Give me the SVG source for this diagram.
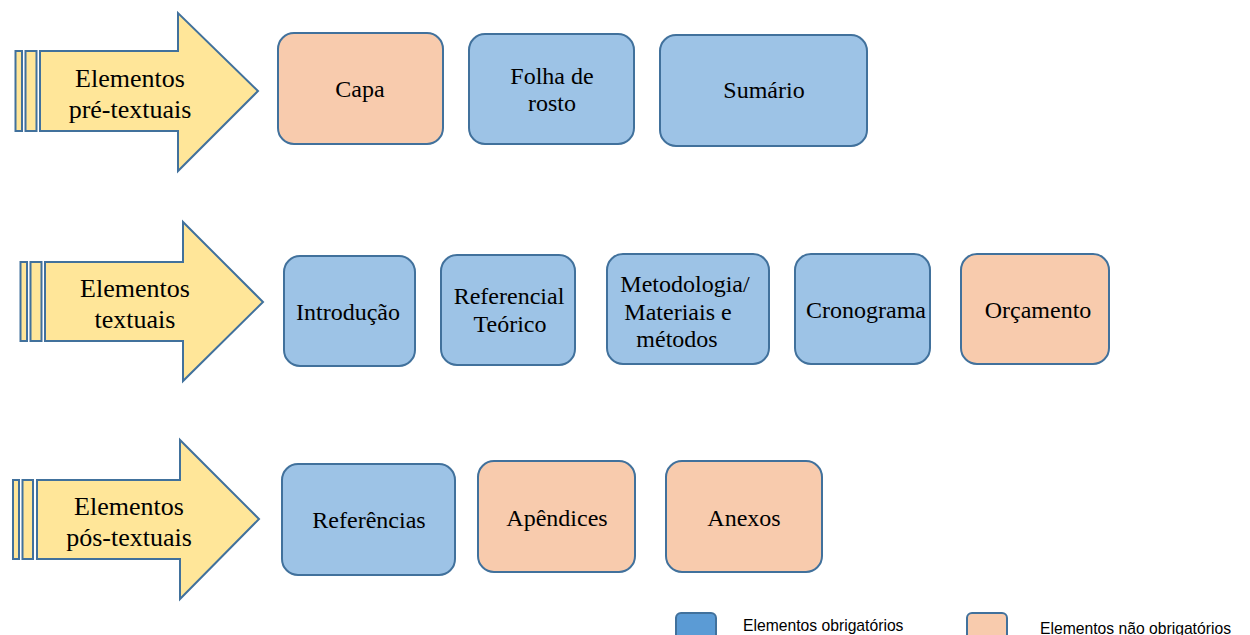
<svg xmlns="http://www.w3.org/2000/svg" width="1250" height="635" viewBox="0 0 1250 635">
<style>
.arr{fill:#FFE699;stroke:#41719C;stroke-width:2;stroke-linejoin:miter}
.blue{fill:#9DC3E6;stroke:#41719C;stroke-width:2}
.orange{fill:#F8CBAD;stroke:#41719C;stroke-width:2}
.t{font-family:"Liberation Serif","Times New Roman",serif;font-size:24px;fill:#000;text-anchor:middle}
.ta{font-family:"Liberation Serif","Times New Roman",serif;font-size:26px;fill:#000;text-anchor:middle}
.leg{font-family:"Liberation Sans",Arial,sans-serif;font-size:15.7px;fill:#000}
</style>
<rect width="1250" height="635" fill="#fff"/>

<g id="arrow-pre">
<rect class="arr" x="15.5" y="51" width="6.5" height="80"/>
<rect class="arr" x="25.5" y="51" width="11" height="80"/>
<polygon class="arr" points="40,51 178,51 178,13 258,91 178,171 178,131 40,131"/>
<text class="ta" x="130" y="87">Elementos</text>
<text class="ta" x="130" y="118">pré-textuais</text>
</g>

<g id="arrow-text">
<rect class="arr" x="20.5" y="262" width="6.5" height="79"/>
<rect class="arr" x="30.5" y="262" width="11" height="79"/>
<polygon class="arr" points="45,262 183,262 183,222 263,302 183,381 183,341 45,341"/>
<text class="ta" x="135" y="297">Elementos</text>
<text class="ta" x="135" y="328">textuais</text>
</g>

<g id="arrow-pos">
<rect class="arr" x="13" y="480" width="6" height="79"/>
<rect class="arr" x="22.5" y="480" width="10.5" height="79"/>
<polygon class="arr" points="37,480 180,480 180,440 259,519 180,599 180,559 37,559"/>
<text class="ta" x="129" y="515">Elementos</text>
<text class="ta" x="129" y="546">pós-textuais</text>
</g>

<g id="capa"><rect class="orange" x="278" y="33" width="165" height="111" rx="16"/><text class="t" x="360" y="97">Capa</text></g>
<g id="folha"><rect class="blue" x="469" y="34" width="165" height="110" rx="16"/><text class="t" x="552" y="84">Folha de</text><text class="t" x="552" y="111">rosto</text></g>
<g id="sumario"><rect class="blue" x="660" y="35" width="207" height="111" rx="16"/><text class="t" x="764" y="98">Sumário</text></g>

<g id="introducao"><rect class="blue" x="284" y="256" width="131" height="110" rx="16"/><text class="t" x="348" y="320">Introdução</text></g>
<g id="referencial"><rect class="blue" x="441" y="255" width="134" height="110" rx="16"/><text class="t" x="509" y="304">Referencial</text><text class="t" x="510" y="332">Teórico</text></g>
<g id="metodologia"><rect class="blue" x="607" y="254" width="162" height="110" rx="16"/><text class="t" x="685" y="292">Metodologia/</text><text class="t" x="678" y="320">Materiais e</text><text class="t" x="677" y="347">métodos</text></g>
<g id="cronograma"><rect class="blue" x="795" y="254" width="135" height="110" rx="16"/><text class="t" x="866" y="318">Cronograma</text></g>
<g id="orcamento"><rect class="orange" x="961" y="254" width="148" height="110" rx="16"/><text class="t" x="1038" y="318">Orçamento</text></g>

<g id="referencias"><rect class="blue" x="282" y="464" width="173" height="111" rx="16"/><text class="t" x="369" y="528">Referências</text></g>
<g id="apendices"><rect class="orange" x="478" y="461" width="157" height="111" rx="16"/><text class="t" x="557" y="526">Apêndices</text></g>
<g id="anexos"><rect class="orange" x="666" y="461" width="156" height="111" rx="16"/><text class="t" x="744" y="526">Anexos</text></g>

<g id="connectors"></g>

<g id="legend">
<rect x="676" y="613" width="40" height="40" rx="5" fill="#5B9BD5" stroke="#41719C" stroke-width="2"/>
<text class="leg" x="743" y="631">Elementos obrigatórios</text>
<rect x="967" y="613" width="40" height="40" rx="5" fill="#F8CBAD" stroke="#41719C" stroke-width="2"/>
<text class="leg" x="1040" y="634">Elementos não obrigatórios</text>
</g>
</svg>
